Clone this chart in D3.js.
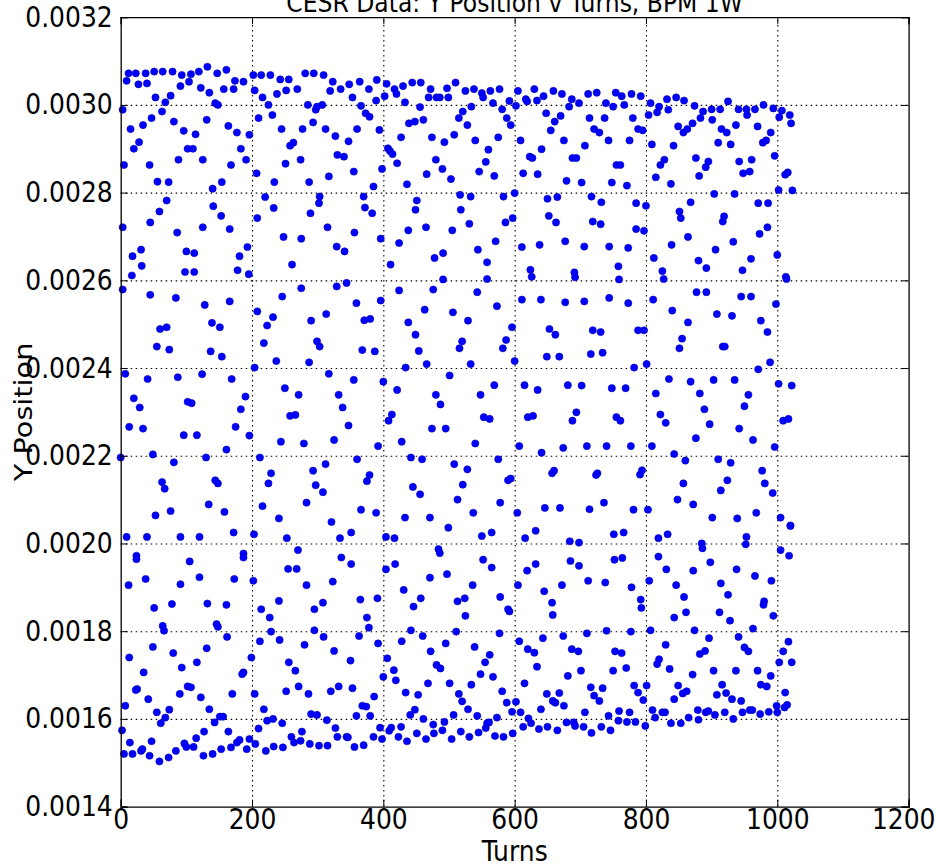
<!DOCTYPE html>
<html><head><meta charset="utf-8">
<script src="https://cdn.jsdelivr.net/npm/d3@7/dist/d3.min.js"></script>
<style>body{margin:0;background:#fff}svg text{font-family:"DejaVu Sans",sans-serif;fill:#000}</style>
</head><body><svg id="c" width="937" height="867"></svg>
<script>
const title = "CESR Data: Y Position v Turns, BPM 1W";
const xLabel = "Turns";
const yLabel = "Y Position";
const xTicks = [0, 200, 400, 600, 800, 1000, 1200];
const yTicks = [0.0014, 0.0016, 0.0018, 0.0020, 0.0022, 0.0024, 0.0026, 0.0028, 0.0030, 0.0032];
const xDomain = [0, 1200];
const yDomain = [0.0014, 0.0032];
const Y_UNIT = 1e-3; // sample y values below are in units of 0.001

// [turn, y], upper third of the band
const samplesUpper = [
[132,3.087],[12,3.072],[23,3.072],[38,3.072],[51,3.076],[64,3.076],[79,3.076],[93,3.068],[107,3.070],[119,3.076],[147,3.072],[161,3.080],[202,3.068],[214,3.068],[228,3.068],[281,3.072],[294,3.072],[309,3.068],
[9,3.055],[27,3.047],[40,3.049],[104,3.053],[174,3.055],[187,3.053],[243,3.058],[256,3.058],[323,3.053],
[91,3.043],[122,3.039],[135,3.028],[157,3.036],[172,3.036],[204,3.033],[252,3.033],[269,3.036],[319,3.032],[335,3.036],
[53,3.017],[68,3.006],[76,3.021],[216,3.017],[238,3.025],[144,3.004],[148,3.000],[225,3.000],[285,3.000],[307,3.000],
[3,2.989],[63,2.985],[47,2.970],[131,2.966],[210,2.970],[231,2.977],[297,2.989],[299,2.996],
[15,2.945],[34,2.954],[81,2.962],[96,2.941],[114,2.933],[164,2.952],[177,2.937],[196,2.932],[245,2.945],[277,2.945],[293,2.960],[312,2.945],[327,2.929],
[20,2.900],[28,2.915],[102,2.900],[110,2.900],[183,2.900],[258,2.907],[263,2.914],[330,2.886],[340,2.882],
[5,2.863],[44,2.863],[88,2.875],[125,2.875],[168,2.863],[191,2.875],[251,2.866],[274,2.875],
[56,2.825],[73,2.824],[140,2.809],[154,2.824],[207,2.844],[234,2.824],[287,2.824],[317,2.837],
[70,2.782],[141,2.769],[220,2.790],[233,2.765],[303,2.791],[302,2.776],
[59,2.757],[45,2.732],[153,2.747],[166,2.717],[208,2.742],[289,2.753],[315,2.721],
[3,2.721],[86,2.709],[125,2.721],[248,2.699],[275,2.695],[329,2.677],
[18,2.655],[31,2.670],[32,2.633],[100,2.666],[112,2.662],[181,2.655],[193,2.676],[261,2.636],[341,2.666],
[17,2.611],[98,2.619],[112,2.619],[178,2.623],[195,2.614],[344,2.594],
[348,3.047],[364,3.053],[378,3.036],[390,3.057],[405,3.048],[417,3.036],[420,3.025],[430,3.043],[444,3.051],[457,3.051],[472,3.036],[481,3.017],[486,3.017],[497,3.038],[510,3.051],[525,3.032],[538,3.036],[550,3.027],[552,3.017],[563,3.032],[577,3.036],[605,3.032],[617,3.013],[630,3.036],[634,3.010],[644,3.020],[659,3.032],[672,3.025],[687,3.013],
[353,3.017],[389,3.010],[402,3.020],[433,3.006],[469,3.017],[499,3.017],
[366,2.998],[373,2.981],[379,2.973],[394,2.943],[456,2.995],[439,2.958],[448,2.962],[461,2.966],[515,2.970],[521,2.985],[528,2.954],[534,2.996],[567,3.004],[581,2.990],[592,3.009],[588,2.970],[594,2.954],[602,2.998],[619,3.008],[648,2.981],[661,2.962],[655,2.942],[670,2.975],[683,2.996],
[360,2.945],[347,2.917],[427,2.926],[474,2.926],[493,2.915],[508,2.932],[540,2.919],[575,2.926],[609,2.919],[641,2.899],[675,2.919],
[407,2.901],[410,2.895],[414,2.888],[421,2.867],[480,2.875],[490,2.854],[503,2.831],[466,2.842],[560,2.898],[556,2.870],[546,2.848],[569,2.838],[613,2.844],[623,2.882],[627,2.879],[635,2.842],[679,2.827],[688,2.879],
[355,2.848],[398,2.854],[385,2.814],[370,2.791],[372,2.766],[383,2.753],[436,2.819],[451,2.782],[449,2.761],[517,2.795],[533,2.791],[518,2.761],[583,2.791],[600,2.799],[597,2.742],[586,2.732],[531,2.729],[650,2.786],[665,2.790],[652,2.747],[663,2.732],[677,2.689],
[356,2.709],[396,2.695],[424,2.685],[438,2.714],[465,2.721],[505,2.714],[571,2.689],[544,2.670],[611,2.676],[638,2.681],
[411,2.636],[478,2.651],[491,2.662],[558,2.641],[624,2.624],[626,2.608],[691,2.618],[491,2.602],[558,2.603],
[698,3.004],[712,3.025],[725,3.028],[739,3.004],[750,2.996],[754,3.028],[763,3.020],[767,3.000],[778,3.025],[792,3.020],[807,3.004],[820,2.996],[832,3.013],[846,3.017],[858,3.010],[874,2.998],[887,2.985],[900,2.990],[913,2.990],[925,3.008],[941,2.990],[953,2.990],[954,2.977],[966,2.990],[979,3.000],[994,2.992],[1007,2.987],[1019,2.977],[1021,2.958],[1003,2.972],[804,2.977],[817,2.983],[834,2.989],
[714,2.970],[737,2.970],[721,2.945],[729,2.937],[743,2.919],[707,2.907],[780,2.970],[775,2.919],[788,2.945],[795,2.942],[809,2.910],[842,2.907],[849,2.951],[857,2.937],[863,2.945],[871,2.958],[883,2.970],[901,2.966],[915,2.945],[923,2.937],[910,2.914],[929,2.910],[937,2.954],[970,2.951],[990,2.937],[978,2.914],[983,2.919],[996,2.884],
[694,2.879],[755,2.863],[761,2.863],[702,2.823],[748,2.823],[771,2.816],[822,2.863],[828,2.875],[815,2.835],[838,2.820],[876,2.879],[881,2.838],[891,2.858],[895,2.871],[942,2.871],[948,2.844],[961,2.875],[958,2.848],[1012,2.841],[1016,2.846],[1002,2.806],[1023,2.805],
[717,2.791],[732,2.778],[785,2.776],[800,2.770],[719,2.734],[731,2.728],[785,2.717],[797,2.713],[851,2.757],[853,2.742],[868,2.778],[904,2.797],[935,2.797],[919,2.746],[917,2.734],[971,2.776],[986,2.776],[973,2.706],[985,2.721],
[706,2.677],[744,2.677],[773,2.674],[758,2.632],[692,2.607],[759,2.602],[812,2.651],[825,2.621],[827,2.603],[839,2.681],[864,2.699],[880,2.645],[892,2.628],[906,2.670],[933,2.688],[947,2.623],[960,2.649],[1000,2.658],[1013,2.608],[1014,2.603]
];

// middle third of the band
const samplesMiddle = [
[3,2.579],[45,2.567],[84,2.560],[128,2.544],[166,2.552],[208,2.529],[246,2.563],[275,2.582],[329,2.586],
[60,2.489],[70,2.493],[139,2.503],[151,2.493],[223,2.497],[232,2.516],[290,2.508],[313,2.523],
[55,2.449],[74,2.442],[137,2.438],[154,2.426],[218,2.457],[237,2.416],[287,2.413],[299,2.461],[303,2.449],
[7,2.387],[41,2.375],[87,2.379],[124,2.386],[169,2.375],[204,2.401],[317,2.387],
[20,2.331],[29,2.310],[102,2.323],[108,2.320],[190,2.335],[183,2.306],[250,2.354],[271,2.339],[332,2.339],[338,2.310],
[13,2.266],[34,2.262],[96,2.247],[116,2.247],[175,2.266],[196,2.246],[258,2.291],[266,2.293],
[49,2.203],[81,2.185],[130,2.196],[161,2.214],[212,2.196],[244,2.232],[279,2.228],[325,2.236],
[63,2.140],[67,2.125],[144,2.144],[148,2.137],[229,2.160],[225,2.137],[293,2.166],[297,2.133],[308,2.117],[312,2.181],
[134,2.089],[76,2.074],[53,2.064],[158,2.072],[216,2.085],[283,2.093],[241,2.057],[321,2.049],[0,2.196],
[359,2.548],[396,2.554],[424,2.577],[476,2.579],[543,2.573],[573,2.541],[611,2.556],[640,2.556],[677,2.550],
[371,2.509],[380,2.512],[438,2.504],[463,2.533],[506,2.527],[529,2.508],[596,2.493],[653,2.489],[662,2.476],
[368,2.441],[387,2.438],[449,2.476],[454,2.439],[466,2.409],[434,2.401],[516,2.445],[520,2.461],[533,2.409],[582,2.445],[587,2.464],[600,2.416],[649,2.426],[668,2.426],
[355,2.373],[400,2.369],[421,2.350],[480,2.339],[487,2.317],[501,2.383],[548,2.339],[569,2.361],[615,2.361],[635,2.350],[681,2.361],
[347,2.269],[408,2.280],[413,2.294],[474,2.262],[495,2.262],[553,2.288],[562,2.284],[620,2.288],[628,2.291],[688,2.280],
[392,2.222],[428,2.232],[540,2.228],[607,2.222],[641,2.207],[674,2.218],
[360,2.192],[442,2.196],[459,2.192],[508,2.181],[528,2.169],[575,2.192],[657,2.160],[660,2.166],
[375,2.142],[379,2.156],[445,2.129],[456,2.112],[521,2.134],[513,2.100],[590,2.144],[594,2.148],[578,2.093],
[366,2.077],[389,2.070],[433,2.059],[471,2.059],[537,2.070],[604,2.070],[646,2.081],[669,2.081],
[706,2.552],[744,2.560],[773,2.548],[811,2.556],[840,2.531],[877,2.573],[892,2.573],[908,2.523],[931,2.519],[945,2.563],[960,2.563],[998,2.546],
[719,2.486],[731,2.482],[788,2.486],[797,2.486],[864,2.504],[855,2.467],[851,2.445],[917,2.449],[920,2.449],[975,2.508],[985,2.482],
[716,2.432],[734,2.435],[782,2.401],[801,2.409],[971,2.397],[989,2.413],
[702,2.360],[748,2.354],[769,2.354],[835,2.375],[815,2.342],[868,2.369],[882,2.342],[903,2.373],[935,2.373],[956,2.339],[950,2.313],[1002,2.364],[1022,2.360],
[694,2.299],[755,2.288],[761,2.280],[822,2.294],[830,2.275],[889,2.306],[897,2.272],[942,2.262],[1009,2.280],[1017,2.284],
[710,2.222],[740,2.222],[777,2.222],[809,2.222],[876,2.240],[963,2.236],[996,2.220],
[843,2.204],[860,2.189],[910,2.192],[929,2.184],[724,2.156],[726,2.160],[791,2.157],[794,2.167],[857,2.137],[924,2.144],[914,2.121],[977,2.166],[981,2.137],[993,2.115],
[714,2.078],[736,2.093],[781,2.077],[803,2.077],[848,2.100],[872,2.089],[901,2.059],[939,2.057],[968,2.070],[1005,2.059],[1020,2.041]
];

// lower third of the band
const samplesLower = [
[9,2.015],[40,2.015],[91,2.015],[120,2.015],[172,2.025],[203,2.021],[253,2.012],[334,2.012],
[24,1.972],[24,1.964],[105,1.959],[187,1.977],[187,1.968],[270,1.985],[336,1.968],
[12,1.905],[38,1.919],[91,1.907],[120,1.923],[173,1.919],[202,1.915],[255,1.942],[268,1.942],[283,1.905],[323,1.913],
[51,1.853],[78,1.862],[132,1.863],[161,1.860],[214,1.850],[241,1.869],[295,1.850],[308,1.865],
[64,1.812],[66,1.801],[146,1.816],[148,1.810],[162,1.787],[227,1.831],[229,1.799],[295,1.802],[309,1.787],
[49,1.764],[131,1.761],[212,1.777],[242,1.780],[280,1.769],[325,1.755],
[13,1.740],[80,1.750],[116,1.729],[93,1.717],[199,1.740],[256,1.729],[187,1.706],[185,1.702],[266,1.710],
[35,1.706],[25,1.668],[23,1.666],[42,1.645],[90,1.657],[102,1.674],[107,1.672],[122,1.649],[170,1.657],[204,1.657],[252,1.663],[271,1.674],[286,1.657],[320,1.663],[332,1.674],
[7,1.630],[55,1.615],[61,1.590],[68,1.603],[74,1.621],[135,1.622],[143,1.592],[151,1.605],[156,1.605],[218,1.622],[223,1.596],[232,1.600],[246,1.590],[290,1.611],[299,1.609],[314,1.597],
[2,1.574],[14,1.546],[5,1.520],[18,1.520],[31,1.527],[33,1.531],[44,1.516],[47,1.549],[59,1.503],[73,1.512],[84,1.527],[97,1.544],[100,1.536],[111,1.536],[115,1.556],[127,1.571],[126,1.516],[140,1.520],[153,1.531],[164,1.571],[168,1.535],[177,1.546],[181,1.552],[192,1.531],[196,1.554],[205,1.543],[210,1.578],[221,1.527],[233,1.537],[247,1.535],[260,1.559],[264,1.546],[274,1.550],[276,1.571],[288,1.543],[302,1.539],[315,1.539],[327,1.579],[330,1.559],[344,1.559],
[351,2.025],[404,2.015],[417,2.012],[499,2.036],[550,2.017],[565,2.025],[616,2.012],[632,2.029],[684,2.005],
[351,1.953],[404,1.941],[418,1.953],[484,1.987],[486,1.978],[497,1.930],[471,1.922],[552,1.963],[565,1.945],[619,1.938],[632,1.953],[685,1.960],
[365,1.872],[391,1.875],[431,1.894],[446,1.856],[457,1.875],[513,1.868],[524,1.875],[525,1.835],[536,1.905],[578,1.878],[590,1.850],[592,1.845],[605,1.905],[645,1.891],[657,1.865],[658,1.837],[672,1.905],
[375,1.831],[378,1.808],[363,1.789],[392,1.772],[350,1.733],[442,1.802],[428,1.777],[460,1.789],[511,1.799],[495,1.772],[472,1.754],[539,1.764],[577,1.795],[607,1.777],[620,1.759],[630,1.751],[643,1.784],[674,1.789],[687,1.759],
[406,1.738],[400,1.696],[416,1.711],[419,1.688],[481,1.723],[487,1.715],[468,1.681],[501,1.681],[548,1.702],[555,1.729],[562,1.746],[567,1.696],[534,1.678],[581,1.663],[634,1.719],[615,1.681],[681,1.698],
[353,1.670],[386,1.651],[368,1.630],[374,1.628],[434,1.660],[453,1.655],[515,1.657],[520,1.640],[529,1.622],[588,1.637],[602,1.639],[649,1.657],[662,1.637],[658,1.641],[668,1.659],[675,1.630],[640,1.622],
[359,1.607],[380,1.607],[395,1.580],[409,1.573],[412,1.580],[427,1.582],[441,1.609],[448,1.621],[461,1.600],[476,1.587],[477,1.567],[493,1.593],[490,1.574],[507,1.609],[543,1.607],[556,1.579],[558,1.590],[561,1.592],[573,1.603],[596,1.616],[609,1.615],[621,1.601],[625,1.590],[637,1.577],[650,1.582],[665,1.574],[679,1.592],
[346,1.558],[356,1.536],[370,1.540],[385,1.559],[398,1.554],[423,1.559],[436,1.549],[451,1.567],[465,1.554],[504,1.554],[518,1.571],[531,1.559],[545,1.569],[570,1.561],[583,1.559],[597,1.567],[613,1.582],
[698,2.002],[751,2.021],[766,2.025],[819,2.012],[833,2.021],[885,2.000],[886,1.989],[953,2.015],[952,1.998],[1005,1.985],[1020,2.040],[1018,1.972],
[698,1.949],[752,1.963],[764,1.967],[819,1.970],[831,1.941],[872,1.938],[898,1.957],[938,1.941],[966,1.926],
[712,1.915],[738,1.911],[778,1.900],[805,1.915],[792,1.872],[793,1.853],[846,1.905],[858,1.878],[861,1.843],[843,1.831],[914,1.909],[925,1.883],[912,1.843],[928,1.824],[980,1.868],[979,1.860],[991,1.915],[994,1.835],
[710,1.795],[740,1.801],[777,1.799],[807,1.802],[874,1.802],[896,1.784],[941,1.787],[963,1.806],
[697,1.754],[753,1.754],[763,1.750],[830,1.769],[820,1.736],[817,1.725],[836,1.714],[882,1.748],[890,1.755],[903,1.710],[937,1.710],[950,1.763],[956,1.754],[970,1.710],[990,1.698],[1009,1.754],[1017,1.776],[1003,1.729],[1022,1.729],
[701,1.710],[750,1.710],[770,1.716],[716,1.672],[721,1.653],[729,1.641],[734,1.670],[782,1.676],[788,1.660],[796,1.643],[801,1.676],[843,1.645],[849,1.676],[856,1.658],[862,1.663],[871,1.701],[908,1.655],[916,1.678],[922,1.659],[931,1.645],[945,1.641],[975,1.678],[984,1.674],[1012,1.660],
[707,1.615],[690,1.592],[692,1.584],[705,1.582],[717,1.568],[732,1.582],[743,1.607],[746,1.574],[759,1.618],[758,1.596],[771,1.593],[775,1.615],[784,1.593],[799,1.584],[810,1.620],[814,1.603],[825,1.615],[829,1.615],[838,1.590],[853,1.590],[865,1.603],[879,1.620],[880,1.598],[891,1.615],[895,1.618],[905,1.609],[920,1.615],[933,1.600],[947,1.615],[958,1.620],[962,1.620],[974,1.611],[987,1.616],[999,1.630],[1000,1.615],[1011,1.626],[1015,1.632]
];

const points = samplesUpper.concat(samplesMiddle, samplesLower)
  .map(([t, v]) => ({turn: t, y: v * Y_UNIT}));

const W = 937, H = 867;
const plot = {left: 120.7, right: 908.6, top: 17.2, bottom: 806.6};
const svg = d3.select("#c");
svg.append("rect").attr("width", W).attr("height", H).attr("fill", "#fff");

const x = d3.scaleLinear().domain(xDomain).range([plot.left, plot.right]);
const y = d3.scaleLinear().domain(yDomain).range([plot.bottom, plot.top]);
const pw = plot.right - plot.left, ph = plot.bottom - plot.top;
const fontSize = 25;
const stretch = 1.12; // glyphs in the reference are slightly taller than wide

// grid
const gx = svg.append("g").attr("transform", `translate(0,${plot.bottom})`)
  .call(d3.axisBottom(x).tickValues(xTicks.slice(1, -1)).tickSize(-ph).tickFormat(""));
const gy = svg.append("g").attr("transform", `translate(${plot.left},0)`)
  .call(d3.axisLeft(y).tickValues(yTicks.slice(1, -1)).tickSize(-pw).tickFormat(""));
[gx, gy].forEach(g => {
  g.select(".domain").remove();
  g.selectAll("line").attr("stroke", "#000").attr("stroke-width", 1.1).attr("stroke-dasharray", "1.5,3.5");
});

// points
svg.append("g").selectAll("circle").data(points).join("circle")
  .attr("cx", d => x(d.turn)).attr("cy", d => y(d.y)).attr("r", 3.6)
  .attr("fill", "#0000ff").attr("stroke", "#0000b0").attr("stroke-width", 0.6);

function stretchText(sel) {
  sel.each(function () {
    const t = d3.select(this);
    const tx = +t.attr("x") || 0, ty = +t.attr("y") || 0;
    t.attr("x", 0).attr("y", 0).attr("transform", `translate(${tx},${ty}) scale(1,${stretch})`);
  });
}

// axes with inward ticks
const fmtY = d3.format(".4f");
const axB = svg.append("g").attr("transform", `translate(0,${plot.bottom})`)
  .call(d3.axisBottom(x).tickValues(xTicks).tickSize(-7).tickPadding(3).tickFormat(d3.format("d")));
const axT = svg.append("g").attr("transform", `translate(0,${plot.top})`)
  .call(d3.axisTop(x).tickValues(xTicks).tickSize(-7).tickFormat(""));
const axL = svg.append("g").attr("transform", `translate(${plot.left},0)`)
  .call(d3.axisLeft(y).tickValues(yTicks).tickSize(-7).tickPadding(8).tickFormat(fmtY));
const axR = svg.append("g").attr("transform", `translate(${plot.right},0)`)
  .call(d3.axisRight(y).tickValues(yTicks).tickSize(-7).tickFormat(""));
[axB, axT, axL, axR].forEach(g => {
  g.select(".domain").attr("stroke", "#000").attr("stroke-width", 1.3);
  g.selectAll(".tick line").attr("stroke", "#000").attr("stroke-width", 1);
  g.selectAll("text").attr("font-family", "DejaVu Sans").attr("font-size", fontSize).attr("fill", "#000");
});
stretchText(axB.selectAll(".tick text"));
stretchText(axL.selectAll(".tick text"));
// keep the last x label ("1200") inside the page edge
axB.selectAll(".tick text").filter(d => d === xDomain[1])
  .attr("text-anchor", "end").attr("x", W - 2 - x(xDomain[1]));

svg.append("text")
  .attr("transform", `translate(${(plot.left + plot.right) / 2},12) scale(1,${stretch})`)
  .attr("text-anchor", "middle").attr("font-size", 23.5).text(title);
svg.append("text")
  .attr("transform", `translate(${(plot.left + plot.right) / 2},861) scale(1,${stretch})`)
  .attr("text-anchor", "middle").attr("font-size", fontSize).text(xLabel);
svg.append("text")
  .attr("transform", `translate(32,${(plot.top + plot.bottom) / 2}) rotate(-90) scale(1.15,1)`)
  .attr("text-anchor", "middle").attr("font-size", fontSize).text(yLabel);
</script></body></html>
